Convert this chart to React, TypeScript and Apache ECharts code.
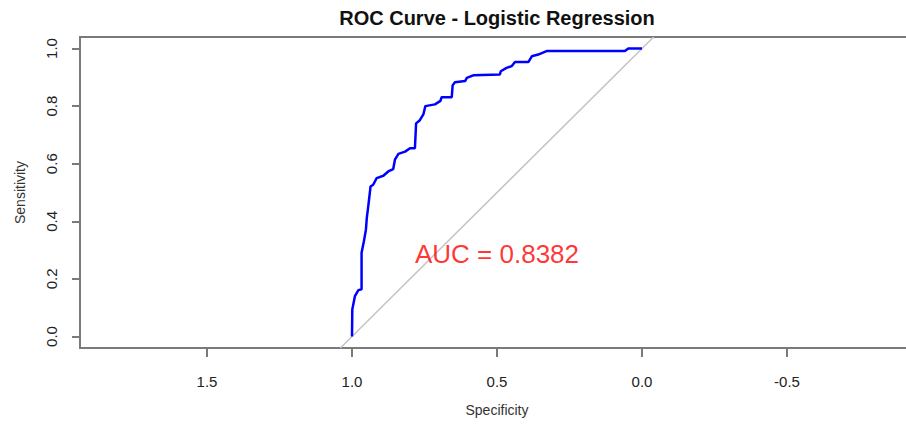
import React, { useEffect, useRef } from "react";
import * as echarts from "echarts";

// ROC curve points (specificity, sensitivity)
const specificity = [
  1.0, 0.999, 0.99, 0.978, 0.967, 0.967, 0.959, 0.952, 0.949, 0.944, 0.936, 0.927,
  0.915, 0.892, 0.875, 0.858, 0.852, 0.84, 0.817, 0.8, 0.783, 0.779, 0.766, 0.754,
  0.747, 0.714, 0.695, 0.691, 0.656, 0.653, 0.645, 0.61, 0.604, 0.582, 0.49, 0.487,
  0.467, 0.449, 0.438, 0.392, 0.38, 0.358, 0.329, 0.059, 0.047, 0.0,
];
const sensitivity = [
  0.0, 0.094, 0.14, 0.161, 0.164, 0.291, 0.331, 0.371, 0.412, 0.452, 0.521, 0.527,
  0.55, 0.558, 0.573, 0.581, 0.614, 0.634, 0.642, 0.654, 0.654, 0.74, 0.751, 0.771,
  0.8, 0.806, 0.818, 0.831, 0.831, 0.872, 0.883, 0.887, 0.898, 0.907, 0.91, 0.921,
  0.933, 0.939, 0.953, 0.953, 0.973, 0.979, 0.991, 0.991, 1.0, 1.0,
];
const xTicks = [1.5, 1.0, 0.5, 0.0, -0.5];
const yTicks = [0.0, 0.2, 0.4, 0.6, 0.8, 1.0];
const diagSpec = [1.04, -0.04];
const diagSens = [-0.04, 1.04];
const aucText = "AUC = 0.8382";
const aucPos = [0.5, 0.285];
const titleText = "ROC Curve - Logistic Regression";

const FONT = "'Liberation Sans', Arial, sans-serif";

export default function App() {
  const ref = useRef<HTMLDivElement>(null);
  useEffect(() => {
    if (!ref.current) return;
    const chart = echarts.init(ref.current, undefined, { renderer: "svg" });
    const curve = specificity.map((s, i) => [s, sensitivity[i]]);
    const diag = diagSpec.map((s, i) => [s, diagSens[i]]);
    chart.setOption({
      animation: false,
      backgroundColor: "#ffffff",
      textStyle: { fontFamily: FONT },
      grid: {
        left: 80,
        top: 37,
        width: 834,
        height: 311,
        show: true,
        borderColor: "#7a7a7a",
        borderWidth: 2,
        backgroundColor: "transparent",
      },
      graphic: [
        {
          type: "text",
          x: 497,
          y: 18,
          style: {
            text: titleText,
            fontFamily: FONT,
            fontWeight: "bold",
            fontSize: 20,
            fill: "#111",
            textAlign: "center",
            textVerticalAlign: "middle",
          },
        },
      ],
      xAxis: {
        type: "value",
        inverse: true,
        min: -0.938,
        max: 1.938,
        name: "Specificity",
        nameLocation: "middle",
        nameGap: 55,
        nameTextStyle: { fontFamily: FONT, fontSize: 14, color: "#333" },
        axisLine: { show: false, onZero: false },
        splitLine: { show: false },
        axisTick: {
          show: true,
          length: 9,
          customValues: xTicks,
          lineStyle: { color: "#7a7a7a", width: 2 },
        },
        axisLabel: {
          customValues: xTicks,
          margin: 26,
          fontFamily: FONT,
          fontSize: 15,
          color: "#222",
          formatter: (v: number) => v.toFixed(1),
        },
      },
      yAxis: {
        type: "value",
        min: -0.04,
        max: 1.04,
        name: "Sensitivity",
        nameLocation: "middle",
        nameGap: 53,
        nameTextStyle: { fontFamily: FONT, fontSize: 14, color: "#333" },
        axisLine: { show: false, onZero: false },
        splitLine: { show: false },
        axisTick: {
          show: true,
          length: 8,
          customValues: yTicks,
          lineStyle: { color: "#7a7a7a", width: 2 },
        },
        axisLabel: {
          customValues: yTicks,
          rotate: 90,
          margin: 21,
          fontFamily: FONT,
          fontSize: 15,
          color: "#222",
          formatter: (v: number) => v.toFixed(1),
        },
      },
      series: [
        {
          type: "line",
          data: diag,
          symbol: "none",
          clip: true,
          lineStyle: { color: "#c4c4c4", width: 1.5 },
          z: 1,
        },
        {
          type: "line",
          data: curve,
          symbol: "none",
          clip: true,
          lineStyle: { color: "#0000ff", width: 2.5 },
          z: 2,
        },
        {
          type: "scatter",
          data: [aucPos],
          symbolSize: 1,
          itemStyle: { color: "rgba(0,0,0,0)" },
          label: {
            show: true,
            position: "inside",
            formatter: aucText,
            fontFamily: FONT,
            fontSize: 26,
            color: "#ff0000",
          },
          z: 3,
        },
      ],
    });
    return () => chart.dispose();
  }, []);
  return (
    <div
      style={{
        position: "absolute",
        left: 0,
        top: 0,
        width: 906,
        height: 424,
        overflow: "hidden",
      }}
    >
      <div ref={ref} style={{ width: 914, height: 424 }} />
    </div>
  );
}
